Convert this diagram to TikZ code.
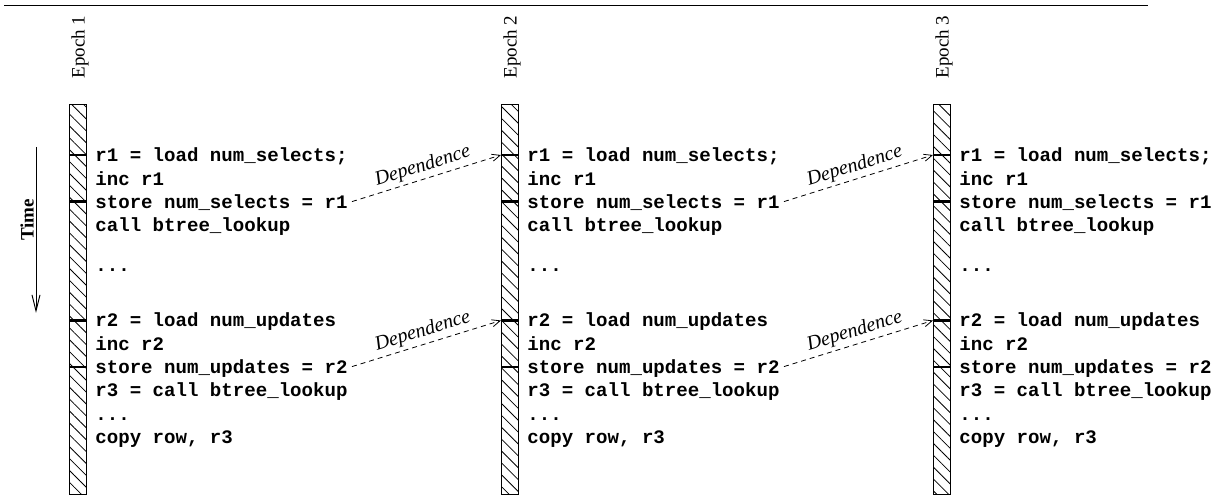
\documentclass[tikz,border=0pt]{standalone}
\usepackage{fontspec}
\setmainfont{Liberation Serif}
\setmonofont{Liberation Mono}
\usetikzlibrary{patterns.meta,arrows.meta,calc}
\begin{document}
\begin{tikzpicture}[x=0.5pt,y=-0.5pt,
  code/.style={font=\fontsize{9.55}{11}\selectfont\ttfamily\bfseries, anchor=base west, inner sep=0pt},
  epochlabel/.style={font=\fontsize{9.5}{11}\selectfont, rotate=90, inner sep=0pt},
  timelabel/.style={font=\fontsize{9.5}{11}\selectfont\bfseries, rotate=90, inner sep=0pt},
  barbox/.style={draw, line width=0.5pt, pattern={Lines[angle=-45,distance=4.2pt,line width=0.4pt]}},
  tickmark/.style={line width=1.2pt},
  dep/.style={dash pattern=on 2.5pt off 2pt, line width=0.4pt, -{Straight Barb[length=4pt,width=3.5pt]}},
  deplabel/.style={midway, above=1.5pt, sloped, inner sep=0pt, font=\fontsize{10}{12}\selectfont\itshape}]
\useasboundingbox (0,0) rectangle (1217,496);
% top rule
\coordinate (ruleL) at (4,6);
\coordinate (ruleR) at (1148,6);
\draw[line width=0.5pt] (ruleL) -- (ruleR);
% time arrow
\coordinate (ttop) at (36,147);
\coordinate (tbot) at (36,313);
\draw[line width=0.5pt, -{Straight Barb[length=8pt,width=4pt]}] (ttop) -- (tbot);
\node[timelabel] (time) at (27,220) {Time};
% epochs
\foreach \i/\dx in {1/0,2/432,3/864} {
  \path[barbox] (69+\dx,105) rectangle (86+\dx,495);
  \node[epochlabel] (ep\i) at (80+\dx,47) {Epoch \i};
  \coordinate (t\i a) at (69+\dx,155);
  \coordinate (t\i b) at (69+\dx,201.5);
  \coordinate (t\i c) at (69+\dx,320.5);
  \coordinate (t\i d) at (69+\dx,367);
  \draw[tickmark] (t\i a) -- ++(17.5,0);
  \draw[tickmark] (t\i b) -- ++(17.5,0);
  \draw[tickmark] (t\i c) -- ++(17.5,0);
  \draw[tickmark] (t\i d) -- ++(17.5,0);
  \node[code] (l1-\i) at (95+\dx,162) {r1 = load num\_selects;};
  \node[code] (l2-\i) at (95+\dx,185.3) {inc r1};
  \node[code] (l3-\i) at (95+\dx,208.6) {store num\_selects = r1};
  \node[code] (l4-\i) at (95+\dx,232) {call btree\_lookup};
  \node[code] (l5-\i) at (95+\dx,272) {...};
  \node[code] (l6-\i) at (95+\dx,327) {r2 = load num\_updates};
  \node[code] (l7-\i) at (95+\dx,350.3) {inc r2};
  \node[code] (l8-\i) at (95+\dx,373.6) {store num\_updates = r2};
  \node[code] (l9-\i) at (95+\dx,397) {r3 = call btree\_lookup};
  \node[code] (l10-\i) at (95+\dx,420.2) {...};
  \node[code] (l11-\i) at (95+\dx,443.5) {copy row, r3};
}
% dependences
\draw[dep] ($(l3-1.base east)+(4,-7)$) -- node[deplabel]{Dependence} (t2a);
\draw[dep] ($(l8-1.base east)+(4,-7)$) -- node[deplabel]{Dependence} (t2c);
\draw[dep] ($(l3-2.base east)+(4,-7)$) -- node[deplabel]{Dependence} (t3a);
\draw[dep] ($(l8-2.base east)+(4,-7)$) -- node[deplabel]{Dependence} (t3c);
\end{tikzpicture}
\end{document}
